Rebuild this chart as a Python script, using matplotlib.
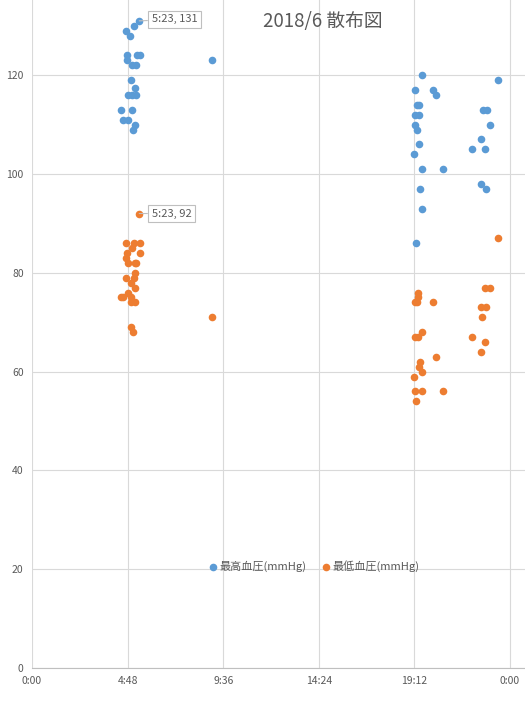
import matplotlib
matplotlib.use('Agg')
import matplotlib.pyplot as plt

plt.rcParams['font.family'] = ['Noto Sans CJK JP', 'DejaVu Sans']

# 最高血圧 (systolic) readings: time of day, value
sys_times = ['5:23', '5:08', '4:42', '4:56', '4:45', '4:45', '5:15', '5:25',
             '5:02', '5:12', '9:03', '4:58', '5:11', '4:50', '5:00', '5:12',
             '4:29', '5:00', '4:35', '4:49', '5:11', '5:04',
             '19:36', '23:25', '19:15', '20:09', '20:18', '19:19', '19:25',
             '19:15', '19:27', '22:40', '22:50', '19:15', '19:21', '23:01',
             '19:27', '22:34', '19:12', '22:07', '22:46', '19:36', '20:39',
             '22:34', '22:49', '19:30', '19:36', '19:18']
sys_values = [131, 130, 129, 128, 124, 123, 124, 124,
              122, 122, 123, 119, 117.5, 116, 116, 116,
              113, 113, 111, 111, 110, 109,
              120, 119, 117, 117, 116, 114, 114,
              112, 112, 113, 113, 110, 109, 110,
              106, 107, 104, 105, 105, 101, 101,
              98, 97, 97, 93, 86]

# 最低血圧 (diastolic) readings
dia_times = ['5:23', '4:42', '5:08', '5:26', '5:02', '5:26', '4:47', '4:44',
             '4:50', '5:13', '5:11', '5:11', '5:08', '4:44', '4:58', '5:11',
             '4:50', '4:29', '4:35', '4:58', '4:58', '5:11', '9:03', '4:58',
             '5:04',
             '23:25', '19:24', '19:24', '19:15', '19:21', '20:09', '22:46',
             '23:01', '22:34', '22:49', '22:37', '19:36', '19:15', '19:24',
             '22:07', '22:46', '22:34', '20:18', '19:30', '19:27', '19:36',
             '19:12', '19:15', '19:36', '20:39', '19:18']
dia_values = [92, 86, 86, 86, 85, 84, 84, 83,
              82, 82, 82, 80, 79, 79, 78, 77,
              76, 75, 75, 75, 74, 74, 71, 69,
              68,
              87, 76, 75, 74, 74, 74, 77,
              77, 73, 73, 71, 68, 67, 67,
              67, 66, 64, 63, 62, 61, 60,
              59, 56, 56, 56, 54]

x_tick_labels = ['0:00', '4:48', '9:36', '14:24', '19:12', '0:00']
y_ticks = [0, 20, 40, 60, 80, 100, 120]


def to_day(t):
    h, m = t.split(':')
    return (int(h) + int(m) / 60) / 24


sys_x = [to_day(t) for t in sys_times]
dia_x = [to_day(t) for t in dia_times]

blue = '#5B9BD5'
orange = '#ED7D31'
text_gray = '#595959'
grid_gray = '#D9D9D9'

fig = plt.figure(figsize=(5.25, 7.05), dpi=100)
ax = fig.add_axes([32 / 525, 37 / 705, 493 / 525, 668 / 705])

ax.scatter(sys_x, sys_values, s=30, color=blue, label='最高血圧(mmHg)', zorder=3, linewidths=0)
ax.scatter(dia_x, dia_values, s=30, color=orange, label='最低血圧(mmHg)', zorder=3, linewidths=0)

ax.set_xlim(0, 493 / 478)
ax.set_ylim(0, 668 / 4.94)
ax.set_xticks([0, 0.2, 0.4, 0.6, 0.8, 1.0])
ax.set_xticklabels(x_tick_labels)
ax.set_yticks(y_ticks)
ax.tick_params(length=0, labelsize=7.5, colors=text_gray, pad=6)
ax.grid(True, color=grid_gray, linewidth=0.8, zorder=0)
ax.set_axisbelow(True)
for side in ['top', 'right', 'left']:
    ax.spines[side].set_visible(False)
ax.spines['bottom'].set_color('#BFBFBF')
ax.spines['bottom'].set_linewidth(0.8)

# data labels on the 5:23 readings
box = dict(boxstyle='square,pad=0.35', fc='white', ec='#BFBFBF', lw=0.8)
arrow = dict(arrowstyle='-', color='#BFBFBF', lw=0.8, shrinkA=0, shrinkB=0)
ax.annotate('5:23, 131', xy=(sys_x[0], sys_values[0]), xytext=(9, 1),
            textcoords='offset points', fontsize=8, color=text_gray,
            va='center', ha='left', bbox=box, arrowprops=arrow)
ax.annotate('5:23, 92', xy=(dia_x[0], dia_values[0]), xytext=(9, 0),
            textcoords='offset points', fontsize=8, color=text_gray,
            va='center', ha='left', bbox=box, arrowprops=arrow)

fig.text(323 / 525, 1 - 22 / 705, '2018/6 散布図', fontsize=13.5,
         color=text_gray, ha='center', va='center')

leg = ax.legend(loc='center', bbox_to_anchor=(314 / 525, 1 - 566 / 705),
                bbox_transform=fig.transFigure, ncol=2, frameon=False,
                fontsize=8, handlelength=0.8, handletextpad=0.2,
                columnspacing=1.4, markerscale=1.0)
for t in leg.get_texts():
    t.set_color(text_gray)

fig.savefig('out.png', dpi=100)
